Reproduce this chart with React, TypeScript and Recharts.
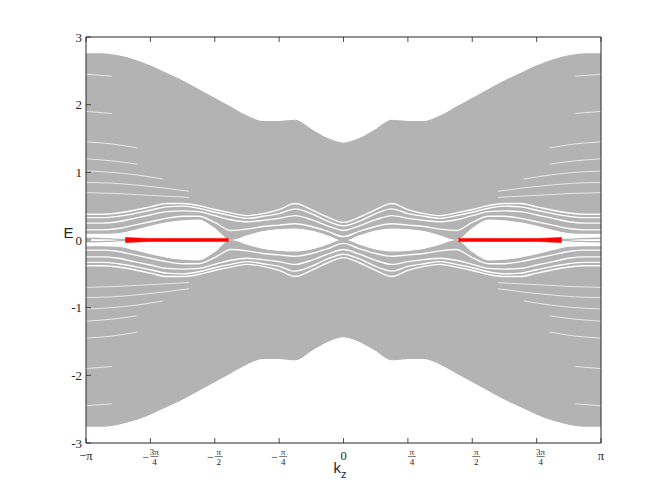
import React from "react";
import { Area, ComposedChart, Line, XAxis, YAxis } from "recharts";

const AXIS = "#262626";
const BAND = "#b3b3b3";

// k_z in units of pi
const kz = [-1, -0.9375, -0.875, -0.8125, -0.75, -0.6875, -0.625, -0.5625, -0.5, -0.4375, -0.375, -0.3125, -0.25, -0.1875, -0.125, -0.0625, 0, 0.0625, 0.125, 0.1875, 0.25, 0.3125, 0.375, 0.4375, 0.5, 0.5625, 0.625, 0.6875, 0.75, 0.8125, 0.875, 0.9375, 1];

// outer edges of the band continuum
const outerTop = [2.75, 2.75, 2.72, 2.66, 2.57, 2.46, 2.35, 2.22, 2.09, 1.96, 1.83, 1.75, 1.75, 1.77, 1.63, 1.5, 1.43, 1.5, 1.63, 1.77, 1.75, 1.75, 1.83, 1.96, 2.09, 2.22, 2.35, 2.46, 2.57, 2.66, 2.72, 2.75, 2.75];
const outerBottom = [-2.75, -2.75, -2.72, -2.66, -2.57, -2.46, -2.35, -2.22, -2.09, -1.96, -1.83, -1.75, -1.75, -1.77, -1.63, -1.5, -1.43, -1.5, -1.63, -1.77, -1.75, -1.75, -1.83, -1.96, -2.09, -2.22, -2.35, -2.46, -2.57, -2.66, -2.72, -2.75, -2.75];

// lowest conduction / highest valence band (edge of the white gap)
const gapTop = [0.1, 0.1, 0.11, 0.16, 0.22, 0.27, 0.3, 0.31, 0.19, 0.01, 0.08, 0.14, 0.17, 0.18, 0.15, 0.08, 0, 0.08, 0.15, 0.18, 0.17, 0.14, 0.08, 0.01, 0.19, 0.31, 0.3, 0.27, 0.22, 0.16, 0.11, 0.1, 0.1];
const gapBottom = [-0.1, -0.1, -0.11, -0.16, -0.22, -0.27, -0.3, -0.31, -0.19, -0.01, -0.08, -0.14, -0.17, -0.18, -0.15, -0.08, 0, -0.08, -0.15, -0.18, -0.17, -0.14, -0.08, -0.01, -0.19, -0.31, -0.3, -0.27, -0.22, -0.16, -0.11, -0.1, -0.1];

// small gaps between neighbouring subbands near the Fermi level
const split1Up = [0.15, 0.15, 0.17, 0.22, 0.27, 0.32, 0.35, 0.35, 0.26, 0.14, 0.16, 0.2, 0.22, 0.24, 0.2, 0.13, 0.05, 0.13, 0.2, 0.24, 0.22, 0.2, 0.16, 0.14, 0.26, 0.35, 0.35, 0.32, 0.27, 0.22, 0.17, 0.15, 0.15];
const split2Up = [0.25, 0.25, 0.27, 0.32, 0.37, 0.42, 0.43, 0.42, 0.36, 0.3, 0.27, 0.29, 0.32, 0.36, 0.3, 0.21, 0.14, 0.21, 0.3, 0.36, 0.32, 0.29, 0.27, 0.3, 0.36, 0.42, 0.43, 0.42, 0.37, 0.32, 0.27, 0.25, 0.25];
const split3Up = [0.33, 0.33, 0.35, 0.39, 0.44, 0.49, 0.5, 0.47, 0.41, 0.36, 0.32, 0.35, 0.39, 0.46, 0.39, 0.28, 0.21, 0.28, 0.39, 0.46, 0.39, 0.35, 0.32, 0.36, 0.41, 0.47, 0.5, 0.49, 0.44, 0.39, 0.35, 0.33, 0.33];
const split4Up = [0.38, 0.38, 0.4, 0.44, 0.49, 0.54, 0.54, 0.51, 0.45, 0.4, 0.36, 0.39, 0.45, 0.54, 0.45, 0.34, 0.26, 0.34, 0.45, 0.54, 0.45, 0.39, 0.36, 0.4, 0.45, 0.51, 0.54, 0.54, 0.49, 0.44, 0.4, 0.38, 0.38];
const split1Down = [-0.15, -0.15, -0.17, -0.22, -0.27, -0.32, -0.35, -0.35, -0.26, -0.14, -0.16, -0.2, -0.22, -0.24, -0.2, -0.13, -0.05, -0.13, -0.2, -0.24, -0.22, -0.2, -0.16, -0.14, -0.26, -0.35, -0.35, -0.32, -0.27, -0.22, -0.17, -0.15, -0.15];
const split2Down = [-0.25, -0.25, -0.27, -0.32, -0.37, -0.42, -0.43, -0.42, -0.36, -0.3, -0.27, -0.29, -0.32, -0.36, -0.3, -0.21, -0.14, -0.21, -0.3, -0.36, -0.32, -0.29, -0.27, -0.3, -0.36, -0.42, -0.43, -0.42, -0.37, -0.32, -0.27, -0.25, -0.25];
const split3Down = [-0.33, -0.33, -0.35, -0.39, -0.44, -0.49, -0.5, -0.47, -0.41, -0.36, -0.32, -0.35, -0.39, -0.46, -0.39, -0.28, -0.21, -0.28, -0.39, -0.46, -0.39, -0.35, -0.32, -0.36, -0.41, -0.47, -0.5, -0.49, -0.44, -0.39, -0.35, -0.33, -0.33];
const split4Down = [-0.38, -0.38, -0.4, -0.44, -0.49, -0.54, -0.54, -0.51, -0.45, -0.4, -0.36, -0.39, -0.45, -0.54, -0.45, -0.34, -0.26, -0.34, -0.45, -0.54, -0.45, -0.39, -0.36, -0.4, -0.45, -0.51, -0.54, -0.54, -0.49, -0.44, -0.4, -0.38, -0.38];

// faint gaps inside the continuum, outer wings
const wingLeftK = [-1, -0.9, -0.8, -0.7, -0.6];
const wingRightK = [0.6, 0.7, 0.8, 0.9, 1];
const wingUpperLeft = [
  [0.7, 0.69, 0.67, 0.65, 0.63],
  [0.85, 0.84, 0.81, 0.77, 0.72],
  [1.02, 1.0, 0.96, 0.9, null],
  [1.2, 1.17, 1.12, null, null],
  [1.45, 1.42, 1.36, null, null],
  [1.9, 1.87, null, null, null],
  [2.45, 2.42, null, null, null],
];
const wingUpperRight = [
  [0.63, 0.65, 0.67, 0.69, 0.7],
  [0.72, 0.77, 0.81, 0.84, 0.85],
  [null, 0.9, 0.96, 1.0, 1.02],
  [null, null, 1.12, 1.17, 1.2],
  [null, null, 1.36, 1.42, 1.45],
  [null, null, null, 1.87, 1.9],
  [null, null, null, 2.42, 2.45],
];
const wingLowerLeft = [
  [-0.7, -0.69, -0.67, -0.65, -0.63],
  [-0.85, -0.84, -0.81, -0.77, -0.72],
  [-1.02, -1.0, -0.96, -0.9, null],
  [-1.2, -1.17, -1.12, null, null],
  [-1.45, -1.42, -1.36, null, null],
  [-1.9, -1.87, null, null, null],
  [-2.45, -2.42, null, null, null],
];
const wingLowerRight = [
  [-0.63, -0.65, -0.67, -0.69, -0.7],
  [-0.72, -0.77, -0.81, -0.84, -0.85],
  [null, -0.9, -0.96, -1.0, -1.02],
  [null, null, -1.12, -1.17, -1.2],
  [null, null, -1.36, -1.42, -1.45],
  [null, null, null, -1.87, -1.9],
  [null, null, null, -2.42, -2.45],
];

// near-zero bands outside the arcs
const zeroK = [-1, -0.92, -0.848, 0, 0.848, 0.92, 1];
const zeroUp = [0.025, 0.02, 0.005, null, 0.005, 0.02, 0.025];
const zeroDown = [-0.025, -0.02, -0.005, null, -0.005, -0.02, -0.025];

// surface (Fermi arc) states at E = 0
const arcK = [-0.848, -0.8, -0.755, -0.6, -0.475, -0.446, 0, 0.446, 0.475, 0.6, 0.755, 0.8, 0.848];
const arcTop = [0.036, 0.03, 0.023, 0.022, 0.024, 0.024, null, 0.024, 0.024, 0.022, 0.023, 0.03, 0.036];
const arcBottom = [-0.036, -0.03, -0.023, -0.022, -0.024, -0.024, null, -0.024, -0.024, -0.022, -0.023, -0.03, -0.036];

const xTicks = [-1, -0.75, -0.5, -0.25, 0, 0.25, 0.5, 0.75, 1];
const xTickSign = ["−", "−", "−", "−", "", "", "", "", ""];
const xTickNum = ["π", "3π", "π", "π", "0", "π", "π", "3π", "π"];
const xTickDen = ["", "4", "2", "4", "", "4", "2", "4", ""];
const yTicks = [-3, -2, -1, 0, 1, 2, 3];

const rows = kz.map((k, i) => ({
  k,
  upperFill: [gapTop[i], outerTop[i]],
  lowerFill: [outerBottom[i], gapBottom[i]],
  s1u: split1Up[i],
  s2u: split2Up[i],
  s3u: split3Up[i],
  s4u: split4Up[i],
  s1d: split1Down[i],
  s2d: split2Down[i],
  s3d: split3Down[i],
  s4d: split4Down[i],
}));

const zeroRows = zeroK.map((k, i) => ({ k, up: zeroUp[i], down: zeroDown[i] }));
const arcRows = arcK.map((k, i) => ({
  k,
  arc: arcTop[i] === null ? null : [arcBottom[i], arcTop[i]],
}));

const wingSeries: { k: number; e: number | null }[][] = [];
[wingUpperLeft, wingLowerLeft].forEach((set) => set.forEach((s) => wingSeries.push(wingLeftK.map((k, i) => ({ k, e: s[i] })))));
[wingUpperRight, wingLowerRight].forEach((set) => set.forEach((s) => wingSeries.push(wingRightK.map((k, i) => ({ k, e: s[i] })))));

const serif = "'Liberation Serif', 'DejaVu Serif', serif";
const sans = "'Liberation Sans', Arial, sans-serif";

function BottomTick(props: any) {
  const { x, y, payload } = props;
  const i = xTicks.indexOf(payload.value);
  const sign = xTickSign[i];
  const num = xTickNum[i];
  const den = xTickDen[i];
  return (
    <g>
      <line x1={x} x2={x} y1={y} y2={y - 5} stroke={AXIS} strokeWidth={0.8} />
      {den ? (
        <g fill={AXIS} fontFamily={serif}>
          {sign && (
            <text x={x - 1} y={y + 13.5} textAnchor="end" dominantBaseline="central" fontSize={12}>
              {sign}
            </text>
          )}
          <text x={x + 4} y={y + 8.5} textAnchor="middle" dominantBaseline="central" fontSize={9}>
            {num}
          </text>
          <line x1={x} x2={x + 8} y1={y + 13.5} y2={y + 13.5} stroke={AXIS} strokeWidth={0.6} />
          <text x={x + 4} y={y + 18.5} textAnchor="middle" dominantBaseline="central" fontSize={9}>
            {den}
          </text>
        </g>
      ) : (
        <text x={x} y={y + 13} textAnchor="middle" dominantBaseline="central" fontSize={12.5} fill={AXIS} fontFamily={serif}>
          {sign + num}
        </text>
      )}
    </g>
  );
}

function TopTick(props: any) {
  const { x, y } = props;
  return <line x1={x} x2={x} y1={y} y2={y + 5} stroke={AXIS} strokeWidth={0.8} />;
}

function LeftTick(props: any) {
  const { x, y, payload } = props;
  return (
    <g>
      <line x1={x} x2={x + 5} y1={y} y2={y} stroke={AXIS} strokeWidth={0.8} />
      <text x={x - 4} y={y} textAnchor="end" dominantBaseline="central" fontSize={13} fill={AXIS} fontFamily={serif}>
        {String(payload.value)}
      </text>
    </g>
  );
}

function RightTick(props: any) {
  const { x, y } = props;
  return <line x1={x} x2={x - 5} y1={y} y2={y} stroke={AXIS} strokeWidth={0.8} />;
}

const splitKeys = ["s1u", "s2u", "s3u", "s4u", "s1d", "s2d", "s3d", "s4d"];

export default function App() {
  return (
    <div style={{ position: "absolute", left: 0, top: 0, width: 664, height: 498, background: "#fff" }}>
      <ComposedChart width={664} height={498} data={rows} margin={{ top: 27, right: 53, bottom: 25, left: 46 }}>
        <XAxis dataKey="k" type="number" domain={[-1, 1]} ticks={xTicks} height={30} tickSize={0} tickMargin={0} tickLine={false} axisLine={{ stroke: AXIS }} tick={(p: any) => <BottomTick {...p} />} interval={0} />
        <XAxis xAxisId="top" dataKey="k" orientation="top" type="number" domain={[-1, 1]} ticks={xTicks} height={10} tickSize={0} tickMargin={0} tickLine={false} axisLine={{ stroke: AXIS }} tick={(p: any) => <TopTick {...p} />} interval={0} />
        <YAxis type="number" domain={[-3, 3]} ticks={yTicks} width={40} tickSize={0} tickMargin={0} tickLine={false} axisLine={{ stroke: AXIS }} tick={(p: any) => <LeftTick {...p} />} interval={0} />
        <YAxis yAxisId="right" orientation="right" type="number" domain={[-3, 3]} ticks={yTicks} width={10} tickSize={0} tickMargin={0} tickLine={false} axisLine={{ stroke: AXIS }} tick={(p: any) => <RightTick {...p} />} interval={0} />

        <Area dataKey="upperFill" type="monotone" fill={BAND} fillOpacity={1} stroke={BAND} strokeWidth={1.2} dot={false} activeDot={false} isAnimationActive={false} />
        <Area dataKey="lowerFill" type="monotone" fill={BAND} fillOpacity={1} stroke={BAND} strokeWidth={1.2} dot={false} activeDot={false} isAnimationActive={false} />
        {splitKeys.map((key) => (
          <Line key={key} dataKey={key} type="monotone" stroke="#ffffff" strokeWidth={1.4} dot={false} activeDot={false} isAnimationActive={false} />
        ))}
        {wingSeries.map((data, i) => (
          <Line key={"w" + i} data={data} dataKey="e" type="monotone" stroke="#ffffff" strokeOpacity={0.75} strokeWidth={0.9} dot={false} activeDot={false} isAnimationActive={false} />
        ))}
        <Line data={zeroRows} dataKey="up" type="monotone" stroke={BAND} strokeWidth={1.4} dot={false} activeDot={false} isAnimationActive={false} />
        <Line data={zeroRows} dataKey="down" type="monotone" stroke={BAND} strokeWidth={1.4} dot={false} activeDot={false} isAnimationActive={false} />
        <Area data={arcRows} dataKey="arc" type="linear" fill="#ff0000" fillOpacity={1} stroke="#ff0000" strokeWidth={0.6} dot={false} activeDot={false} isAnimationActive={false} />
      </ComposedChart>
      <svg width={664} height={498} style={{ position: "absolute", left: 0, top: 0, pointerEvents: "none" }}>
        <text x={68.5} y={238} textAnchor="middle" fontSize={15} fill={AXIS} fontFamily={sans}>
          E
        </text>
        <text x={340} y={473} textAnchor="middle" fontSize={15} fill={AXIS} fontFamily={sans}>
          k
          <tspan fontSize={11} dy={5}>
            z
          </tspan>
        </text>
      </svg>
    </div>
  );
}
